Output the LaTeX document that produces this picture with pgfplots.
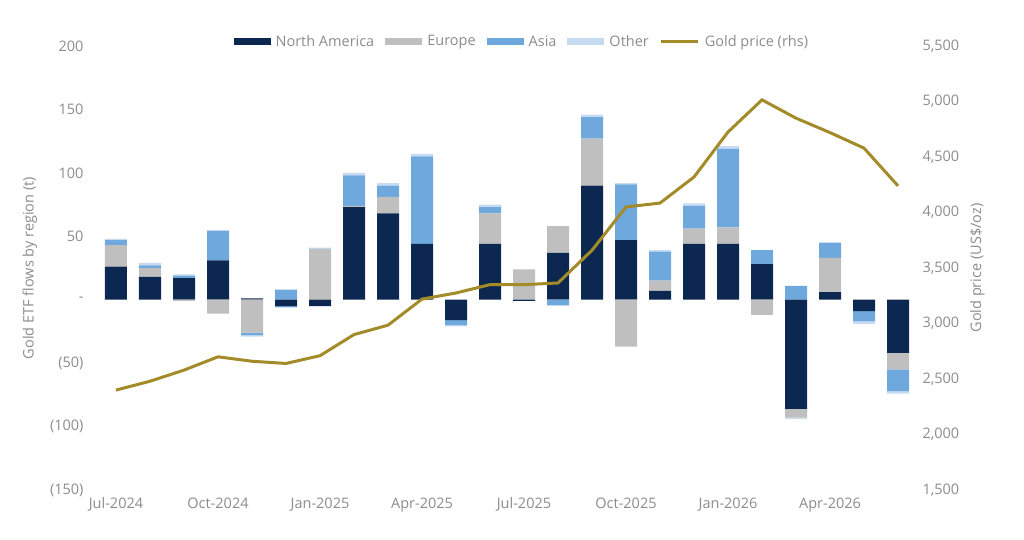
\documentclass[border=0pt]{standalone}
\usepackage{pgfplots}
\pgfplotsset{compat=1.18}
\usepackage{fontspec}
\setmainfont{Open Sans}
\definecolor{na}{HTML}{0D2850}
\definecolor{eu}{HTML}{BFBFBF}
\definecolor{as}{HTML}{6FA8DC}
\definecolor{ot}{HTML}{C6DAF2}
\definecolor{gd}{HTML}{A38B2A}
\definecolor{tx}{HTML}{8C8C8C}
\pgfplotstableread{
i napos eupos aspos otpos naneg euneg asneg otneg gold
0 26 17 4 1 0 0 0 0 2400
1 18 7 2 2 0 0 0 0 2480
2 17 0 2 1 0 -1 0 0 2580
3 31 0 23 1 0 -11 0 0 2700
4 1 0 0 0 0 -26 -2 -1 2660
5 0 0 8 0 -5 0 -1 0 2640
6 0 40 0 1 -5 0 0 0 2710
7 73 1 24 2 0 0 0 0 2900
8 68 13 9 2 0 0 0 0 2985
9 44 0 69 2 0 0 0 0 3220
10 0 0 0 0 -16 0 -4 -1 3275
11 44 24 5 2 0 0 0 0 3350
12 0 24 0 0 -1 0 0 0 3350
13 37 21 0 0 0 0 -4 -1 3365
14 90 37 17 2 0 0 0 0 3660
15 47 0 44 1 0 -37 0 0 4050
16 7 8 23 1 0 0 0 0 4085
17 44 12 18 2 0 0 0 0 4320
18 44 13 62 2 0 0 0 0 4725
19 28 0 11 0 0 -12 0 0 5015
20 0 0 11 0 -86 -7 0 -1 4850
21 6 27 12 0 0 0 0 0 4720
22 0 0 0 0 -9 0 -8 -2 4580
23 0 0 0 0 -42 -13 -17 -2 4240
}\data
\pgfplotsset{
  base/.style={width=816pt,height=444pt,scale only axis,
    xmin=-0.5,xmax=23.5,axis line style={draw=none},
    tick style={draw=none},
    /pgf/number format/assume math mode=true,
    every tick label/.append style={text=tx,font=\fontsize{14.5}{16}\selectfont},
    label style={text=tx,font=\fontsize{14.5}{16}\selectfont}},
  leftax/.style={base,ymin=-150,ymax=200,
    ybar stacked,bar width=22pt,
    xtick={0,3,...,21},
    xticklabels={Jul-2024,Oct-2024,Jan-2025,Apr-2025,Jul-2025,Oct-2025,Jan-2026,Apr-2026},
    xticklabel style={yshift=-4pt},
    ytick={-150,-100,-50,0,50,100,150,200},
    yticklabel style={xshift=-12pt},
    yticklabels={(150),(100),(50),-,50,100,150,200}}
}
\begin{document}
\begin{tikzpicture}
\begin{axis}[leftax,name=ax,
  ylabel={Gold ETF flows by region (t)},
  ylabel style={yshift=6pt},
  legend style={at={(0.52,1.0)},anchor=south,yshift=-6pt,draw=none,fill=none,
    legend columns=-1,font=\fontsize{14.5}{16}\selectfont,text=tx,
    nodes={inner xsep=5pt},
    /tikz/every even column/.append style={column sep=6pt}},
  legend image code/.code={\fill[#1] (0cm,-0.12cm) rectangle (1.3cm,0.12cm);}]
\addplot[fill=na,draw=none] table[x=i,y=napos]{\data};
\addplot[fill=eu,draw=none] table[x=i,y=eupos]{\data};
\addplot[fill=as,draw=none] table[x=i,y=aspos]{\data};
\addplot[fill=ot,draw=none] table[x=i,y=otpos]{\data};
\addlegendimage{legend image code/.code={\draw[gd,line width=3pt] (0cm,0cm) -- (1.3cm,0cm);}}
\legend{North America,Europe,Asia,Other,Gold price (rhs)}
\end{axis}
\begin{axis}[leftax,xticklabels={},yticklabels={}]
\addplot[fill=na,draw=none] table[x=i,y=naneg]{\data};
\addplot[fill=eu,draw=none] table[x=i,y=euneg]{\data};
\addplot[fill=as,draw=none] table[x=i,y=asneg]{\data};
\addplot[fill=ot,draw=none] table[x=i,y=otneg]{\data};
\end{axis}
\begin{axis}[base,ymin=1500,ymax=5500,axis y line*=right,axis x line=none,
  ytick={1500,2000,...,5500},
  yticklabel style={/pgf/number format/1000 sep={,},xshift=4pt},
  ylabel={Gold price (US\$/oz)},ylabel style={yshift=-4pt}]
\addplot[gd,line width=3pt,mark=none] table[x=i,y=gold]{\data};
\end{axis}
\pgfresetboundingbox
\path ([shift={(-99pt,-49pt)}]ax.south west) rectangle ([shift={(109pt,46pt)}]ax.north east);
\end{tikzpicture}
\end{document}
